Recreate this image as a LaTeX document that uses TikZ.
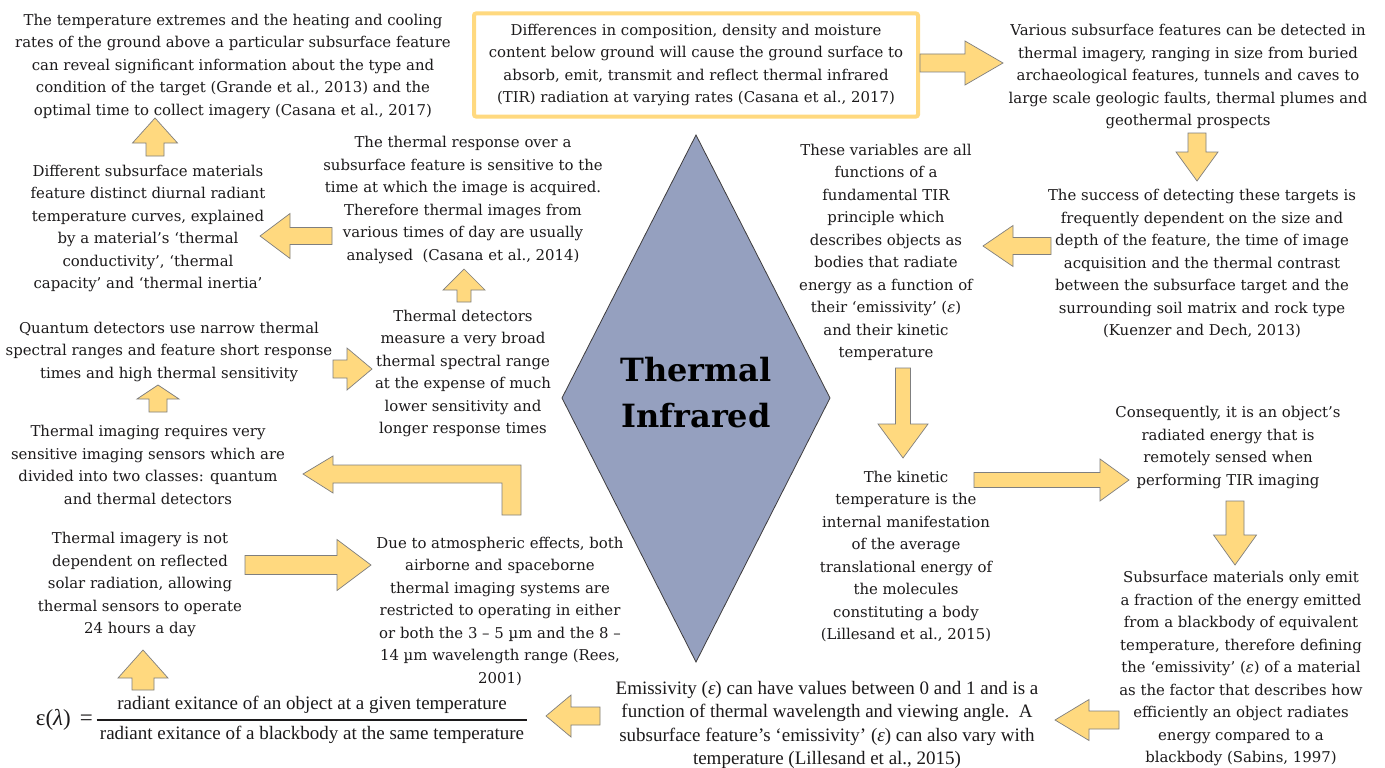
\documentclass[tikz,border=0pt]{standalone}
\usepackage{fontspec}
\setmainfont{DejaVu Serif}
\newfontfamily\condfont{Liberation Serif}

\definecolor{ink}{HTML}{1C1A1B}
\definecolor{gold}{HTML}{FFD97F}
\definecolor{goldedge}{HTML}{7F7F7F}
\definecolor{slate}{HTML}{95A0BF}

% block arrow: tail centre (#1,#2), direction #3, length #4,
% shaft half-width #5, head half-width #6, head length #7
\newcommand\blockarrow[7]{%
  \draw[arr,shift={(#1,#2)},rotate=#3]
    (0,-#5) -- ({#4-#7},-#5) -- ({#4-#7},-#6) -- (#4,0)
    -- ({#4-#7},#6) -- ({#4-#7},#5) -- (0,#5) -- cycle;}

\begin{document}
\begin{tikzpicture}[x=1pt,y=-1pt,
  txt/.style={align=center, inner sep=0pt, text=ink, yshift=-1.5pt,
    font=\fontsize{14.9}{22.5}\selectfont},
  ctxt/.style={align=center, inner sep=0pt, text=ink,
    font=\condfont\fontsize{19}{23.2}\selectfont},
  arr/.style={fill=gold, draw=goldedge, line width=0.7pt, line join=miter}]
\useasboundingbox (0,0) rectangle (1385,768);
\fill[white] (0,0) rectangle (1385,768);

% central diamond
\coordinate (dn) at (696,135);
\coordinate (de) at (830,398);
\coordinate (ds) at (696,662);
\coordinate (dw) at (562,398);
\draw[fill=slate, draw=ink!85, line width=0.8pt] (dn) -- (de) -- (ds) -- (dw) -- cycle;
\node[align=center, inner sep=0pt, text=black,
  font=\bfseries\fontsize{32}{46}\selectfont] (title) at (696,393) {Thermal\\Infrared};

% text blocks
\node[txt] (tl) at (233,64.5) {The temperature extremes and the heating and cooling\\rates of the ground above a particular subsurface feature\\can reveal significant information about the type and\\condition of the target (Grande et al., 2013) and the\\optimal time to collect imagery (Casana et al., 2017)};

\node[txt, draw=gold, line width=4pt, rounded corners=2pt,
  minimum width=444, minimum height=103] (box) at (696,63.5) {Differences in composition, density and moisture\\content below ground will cause the ground surface to\\absorb, emit, transmit and reflect thermal infrared\\(TIR) radiation at varying rates (Casana et al., 2017)};

\node[txt] (tr1) at (1188,75) {Various subsurface features can be detected in\\thermal imagery, ranging in size from buried\\archaeological features, tunnels and caves to\\large scale geologic faults, thermal plumes and\\geothermal prospects};

\node[txt] (tr2) at (1202,262) {The success of detecting these targets is\\frequently dependent on the size and\\depth of the feature, the time of image\\acquisition and the thermal contrast\\between the subsurface target and the\\surrounding soil matrix and rock type\\(Kuenzer and Dech, 2013)};

\node[txt] (mr) at (886,251) {These variables are all\\functions of a\\fundamental TIR\\principle which\\describes objects as\\bodies that radiate\\energy as a function of\\their ‘emissivity’ (\textit{ε})\\and their kinetic\\temperature};

\node[txt] (kin) at (906,555) {The kinetic\\temperature is the\\internal manifestation\\of the average\\translational energy of\\the molecules\\constituting a body\\(Lillesand et al., 2015)};

\node[txt] (cons) at (1228,446) {Consequently, it is an object’s\\radiated energy that is\\remotely sensed when\\performing TIR imaging};

\node[txt] (sub) at (1241,667) {Subsurface materials only emit\\a fraction of the energy emitted\\from a blackbody of equivalent\\temperature, therefore defining\\the ‘emissivity’ (\textit{ε}) of a material\\as the factor that describes how\\efficiently an object radiates\\energy compared to a\\blackbody (Sabins, 1997)};

\node[ctxt] (emis) at (827,725) {Emissivity (\textit{ε}) can have values between 0 and 1 and is a\\function of thermal wavelength and viewing angle.\ \ A\\subsurface feature’s ‘emissivity’ (\textit{ε}) can also vary with\\temperature (Lillesand et al., 2015)};

% emissivity ratio
\node[ctxt, anchor=east, font=\condfont\fontsize{23}{26}\selectfont] (eps) at (93,720) {ε(\textit{λ})\hspace{9pt}=};
\node[ctxt] (num) at (312,705) {radiant exitance of an object at a given temperature};
\node[ctxt] (den) at (312,735) {radiant exitance of a blackbody at the same temperature};
\draw[ink, line width=1.3pt] ([xshift=-3pt]den.west |- eps.center) -- ([xshift=3pt]den.east |- eps.center);

\node[txt] (solar) at (140,583) {Thermal imagery is not\\dependent on reflected\\solar radiation, allowing\\thermal sensors to operate\\24 hours a day};

\node[txt] (atmo) at (500,609.5) {Due to atmospheric effects, both\\airborne and spaceborne\\thermal imaging systems are\\restricted to operating in either\\or both the 3 – 5 µm and the 8 –\\14 µm wavelength range (Rees,\\2001)};

\node[txt] (req) at (148,463.5) {Thermal imaging requires very\\sensitive imaging sensors which are\\divided into two classes: quantum\\and thermal detectors};

\node[txt] (quant) at (169,350) {Quantum detectors use narrow thermal\\spectral ranges and feature short response\\times and high thermal sensitivity};

\node[txt] (tdet) at (463,372) {Thermal detectors\\measure a very broad\\thermal spectral range\\at the expense of much\\lower sensitivity and\\longer response times};

\node[txt] (resp) at (463,198.5) {The thermal response over a\\subsurface feature is sensitive to the\\time at which the image is acquired.\\Therefore thermal images from\\various times of day are usually\\analysed\ \ (Casana et al., 2014)};

\node[txt] (diff) at (148,227) {Different subsurface materials\\feature distinct diurnal radiant\\temperature curves, explained\\by a material’s ‘thermal\\conductivity’, ‘thermal\\capacity’ and ‘thermal inertia’};

% arrows linking the blocks
\blockarrow{920}{63}{0}{83}{9}{22}{38}          % box -> tr1
\blockarrow{1197}{133}{-90}{48}{9}{21}{29}      % tr1 -> tr2
\blockarrow{1051}{246}{180}{68}{8.5}{20.5}{30}  % tr2 -> mr
\blockarrow{903}{368}{-90}{90}{7.5}{25}{34}     % mr -> kin
\blockarrow{974}{480}{0}{155}{7.5}{21}{29}      % kin -> cons
\blockarrow{1235}{501}{-90}{64}{9}{21.5}{30}    % cons -> sub
\blockarrow{1119}{720}{180}{64}{9}{20.5}{34}    % sub -> emis
\blockarrow{600}{716}{180}{54}{9}{21}{25}       % emis -> ratio
\blockarrow{143}{690}{90}{40}{11}{25}{28}       % ratio -> solar
\blockarrow{245}{565}{0}{126}{9.5}{25.5}{34}    % solar -> atmo
% atmo -> req (elbow)
\draw[arr] (521,515) -- (521,465) -- (333,465) -- (333,456) -- (303,474)
  -- (333,493) -- (333,483) -- (502,483) -- (502,515) -- cycle;
\blockarrow{158}{412}{90}{27}{9}{21}{14}        % req -> quant
\blockarrow{333}{369}{0}{39}{9}{21}{25}         % quant -> tdet
\blockarrow{464}{302}{90}{33}{7}{21}{21}        % tdet -> resp
\blockarrow{332}{236}{180}{72}{8.5}{22.5}{30}   % resp -> diff
\blockarrow{155}{156}{90}{38}{9}{22.5}{25}      % diff -> tl
\end{tikzpicture}
\end{document}
